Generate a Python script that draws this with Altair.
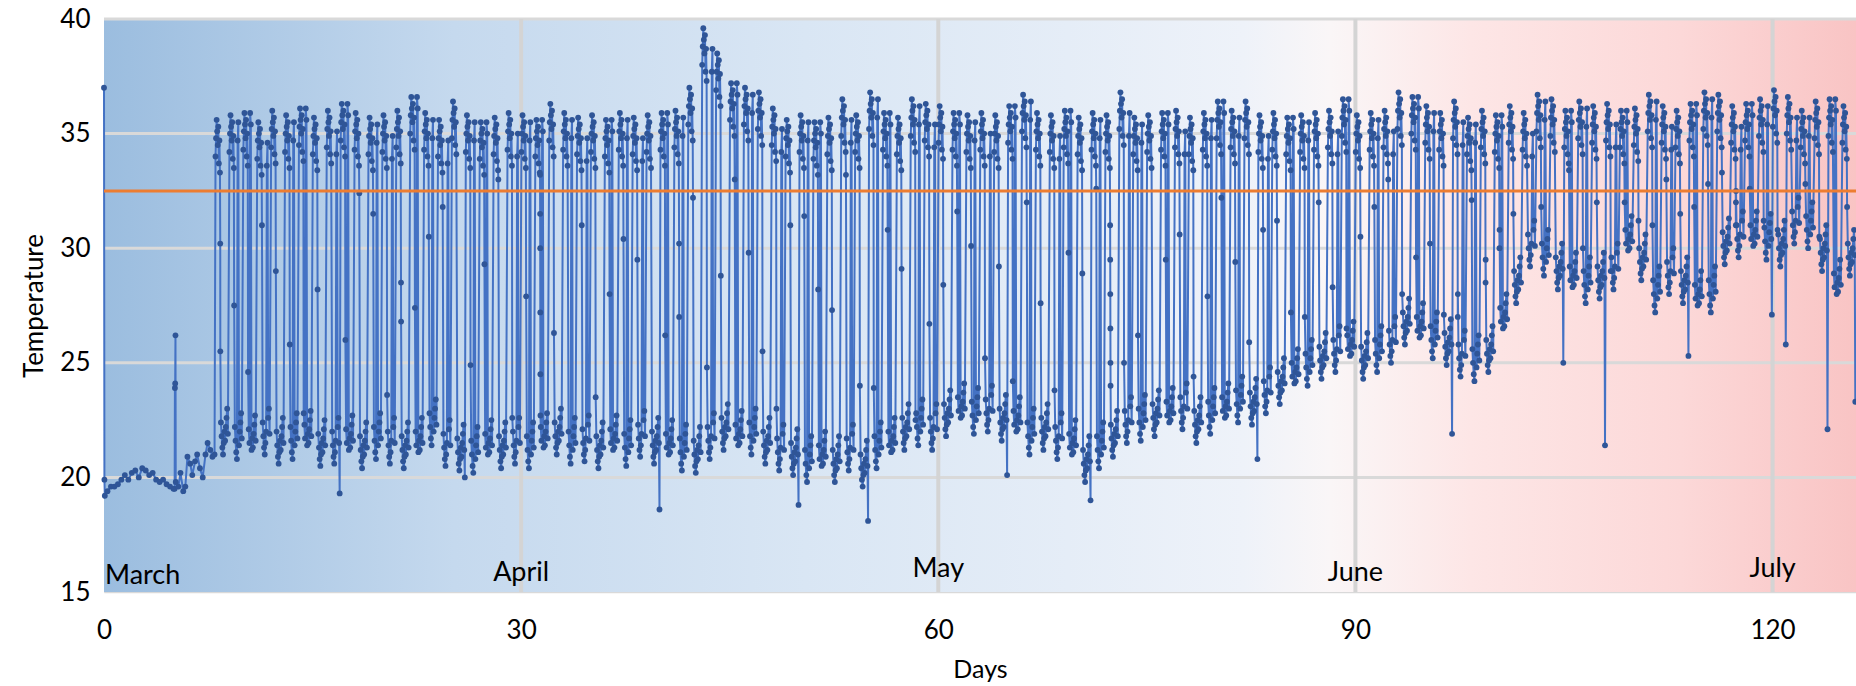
import altair as alt
import pandas as pd

# ---------------- data ----------------
# first days (before the daily oscillation begins)
EARLY_DAY = [0.0, 0.03, 0.06, 0.25, 0.5, 0.75, 1.0, 1.25, 1.5, 1.75, 2.0, 2.25, 2.5, 2.75,
             3.0, 3.25, 3.5, 3.75, 4.0, 4.25, 4.5, 4.75, 5.0, 5.08, 5.1, 5.12, 5.14, 5.16,
             5.35, 5.5, 5.7, 5.85, 6.0, 6.2, 6.35, 6.55, 6.7, 6.9, 7.1, 7.3, 7.45, 7.65,
             7.8, 7.95]
EARLY_TEMP = [37.0, 19.9, 19.2, 19.4, 19.6, 19.6, 19.7, 19.9, 20.1, 19.9, 20.2, 20.3, 20.0, 20.4,
              20.3, 20.1, 20.2, 19.9, 19.8, 19.9, 19.7, 19.6, 19.5, 19.5, 23.9, 24.1, 26.2, 19.8,
              19.6, 20.2, 19.4, 19.6, 20.9, 20.6, 20.1, 20.7, 21.0, 20.4, 20.0, 21.0, 21.5, 21.2,
              20.9, 21.0]

OSC_FIRST_DAY = 8
# daily maximum of the warm phase, days 8..125
DAY_HIGH = [35.6, 35.8, 35.9, 35.5, 36.0, 35.8, 36.1, 35.7, 36.0, 36.3,
            35.9, 35.7, 35.8, 36.0, 36.6, 35.9, 35.6, 36.4, 35.8, 35.5,
            35.7, 35.9, 35.8, 35.6, 36.3, 35.9, 35.7, 35.8, 35.6, 35.9,
            35.7, 35.8, 35.9, 36.0, 37.0, 39.6, 38.5, 37.2, 37.0, 36.8,
            36.1, 35.6, 35.8, 35.5, 35.7, 36.5, 35.8, 36.8, 35.9, 35.7,
            36.5, 36.3, 36.2, 35.9, 35.8, 35.9, 35.8, 36.2, 36.7, 35.9,
            35.8, 36.0, 35.7, 35.9, 35.8, 36.8, 35.7, 35.8, 35.9, 36.0,
            35.7, 35.9, 36.4, 36.0, 36.4, 35.8, 35.9, 35.7, 35.8, 35.9,
            36.0, 36.5, 35.8, 35.9, 36.0, 36.8, 36.6, 36.2, 35.9, 36.4,
            35.7, 36.0, 35.8, 36.2, 35.9, 36.7, 36.5, 36.0, 36.4, 36.2,
            36.3, 36.0, 36.1, 36.7, 36.2, 36.0, 36.3, 36.8, 36.7, 36.2,
            36.3, 36.5, 36.9, 36.6, 36.0, 36.4, 36.5, 36.2]
# daily base of the cool phase, days 8..125
DAY_LOW = [21.0, 20.8, 20.7, 21.0, 20.6, 20.8, 20.9, 20.5, 20.6, 20.7,
           20.4, 20.8, 20.6, 20.4, 20.6, 21.4, 20.5, 20.3, 20.2, 20.5,
           20.4, 20.6, 20.4, 20.8, 21.0, 20.6, 20.7, 20.4, 20.7, 20.5,
           20.9, 20.6, 20.5, 20.3, 20.2, 20.8, 21.2, 20.9, 21.0, 20.6,
           20.3, 20.1, 19.8, 20.0, 19.8, 20.3, 19.6, 20.4, 20.6, 21.2,
           21.4, 21.2, 21.8, 22.1, 21.9, 22.0, 21.6, 21.5, 21.0, 21.2,
           20.8, 20.5, 19.8, 20.4, 20.9, 21.5, 21.6, 21.8, 21.9, 22.1,
           21.5, 21.9, 22.1, 22.4, 22.3, 22.8, 23.2, 23.6, 24.0, 24.3,
           24.6, 24.8, 24.3, 24.6, 25.0, 25.8, 25.6, 25.2, 24.9, 24.4,
           24.2, 24.6, 26.0, 27.6, 29.2, 28.8, 28.2, 27.8, 27.6, 27.8,
           28.2, 29.4, 28.6, 27.2, 28.0, 27.6, 27.0, 27.2, 29.3, 29.6,
           29.6, 29.5, 29.2, 30.2, 30.0, 29.0, 27.5, 28.8]
# isolated deep readings
DIP_DAY = [16, 25, 39, 49, 54, 64, 70, 82, 96, 104, 107, 113, 119, 120, 123, 125]
DIP_TEMP = [19.3, 20.0, 18.6, 18.8, 18.1, 20.1, 19.0, 20.8, 21.9, 25.0, 21.4, 25.3, 27.1, 25.8, 22.1, 23.3]
# intermediate readings while cooling down
MID_DAY = [8, 9, 10, 12, 14, 17, 19, 21, 23, 26, 28, 31, 32, 36, 38, 41, 44, 47, 50, 52, 55,
           57, 59, 62, 65, 67, 69, 72, 74, 77, 79, 81, 84, 86, 88, 91, 94, 97, 99, 100, 101,
           106, 109, 111, 114, 117, 120, 124]
MID_TEMP = [[30.2, 25.5], [27.5], [24.6], [29.0], [22.8], [26.0], [31.5], [28.5, 26.8], [30.5],
            [24.9], [33.0], [33.2, 31.5, 30.0, 27.2, 24.5, 22.7], [26.3], [28.0], [29.5],
            [30.2, 27.0], [28.8], [25.5], [31.4], [27.3], [23.9], [29.1], [26.7], [30.1], [24.2],
            [27.6], [29.8], [31.0, 29.5, 28.0, 26.5, 25.0, 24.0], [26.2], [30.6], [27.9], [29.4],
            [31.2], [27.0], [28.3], [31.8], [29.6], [27.0, 28.0], [28.5, 29.5], [30.0, 30.8],
            [31.5], [30.0], [32.0], [31.0], [31.8], [31.0, 32.0, 32.5], [30.8]]
MID2_DAY = [11, 13, 15, 18, 20, 22, 24, 27, 29, 30, 34, 35, 37, 40, 42, 43, 45, 46, 48, 49,
            51, 53, 54, 56, 58, 60, 61, 63, 64, 66, 68, 70, 71, 73, 76, 78, 80, 82, 83, 85,
            87, 89, 90, 92, 93, 95, 96, 98, 103, 105, 107, 108, 110, 112, 113, 115, 116, 118,
            119, 122, 123, 125]
MID2_TEMP = [31.0, 25.8, 28.2, 32.4, 23.6, 27.4, 31.8, 29.3, 22.6, 27.9, 31.0, 23.5, 30.4, 26.2,
             32.2, 24.8, 33.0, 29.8, 23.0, 31.0, 28.2, 33.2, 24.0, 30.8, 22.5, 28.4, 31.6, 25.2,
             29.2, 32.0, 23.8, 28.9, 32.6, 25.0, 29.5, 24.4, 32.2, 25.9, 30.8, 27.2, 32.0, 26.5,
             30.5, 33.0, 28.0, 30.2, 27.1, 32.1, 31.8, 33.4, 32.0, 29.0, 31.2, 33.0, 31.5, 32.8,
             33.3, 32.6, 31.2, 32.8, 30.5, 31.8]
# days with an extra short warm spell inside the cool phase, and where it falls
BLIP_DAYS = [9, 10, 11, 13, 14, 16, 17, 19, 20, 22, 23, 24, 26, 27, 29, 30, 31, 33, 34, 36,
             37, 38, 40, 41, 43, 45, 46, 48, 50, 51, 53, 55, 56, 58, 59, 61, 62, 63, 65, 66,
             68, 69, 71, 73, 74, 76, 77, 79, 80, 81, 83, 85, 86, 88, 89, 91, 92, 94, 95, 97,
             98, 100, 102, 103, 105, 106, 108, 109, 111, 112, 114, 115, 117, 118, 119, 121,
             122, 124]
BLIP_SLOT = [4, 2, 6, 4, 2, 6, 2, 4, 6, 2, 4, 6, 4, 2, 6, 4, 2, 4, 6, 2,
             4, 6, 2, 4, 6, 2, 4, 6, 4, 2, 6, 4, 2, 4, 6, 2, 4, 6, 2, 4,
             6, 2, 4, 6, 4, 2, 6, 4, 2, 4, 6, 2, 4, 6, 2, 4, 6, 2, 4, 6,
             4, 2, 6, 4, 2, 4, 6, 2, 4, 6, 2, 4, 6, 2, 4, 6, 4, 2]
# spread of the readings inside a warm / cool phase
HIGH_SPREAD = [-1.6, -0.8, 0.0, -0.5, -1.1, -0.3, -1.9, -0.9, -2.3]
LOW_SPREAD = [1.4, 0.8, 0.3, 0.0, 0.5, 1.0, 0.6, 1.2, 1.6, 2.0, 0.9]

THRESHOLD = [32.5]
Y_GRID = [20, 25, 30, 35, 40]
X_GRID = [30, 60, 90, 120]
X_TICKS = [0, 30, 60, 90, 120]
Y_TICKS = [15, 20, 25, 30, 35, 40]
MONTHS = ["March", "April", "May", "June", "July"]
MONTH_DAY = [0, 30, 60, 90, 120]
MONTH_Y = [15.70, 15.83, 16.0, 15.83, 16.0]

# ---------------- build the series ----------------
rows = [(d, t) for d, t in zip(EARLY_DAY, EARLY_TEMP)]
dips = dict(zip(DIP_DAY, DIP_TEMP))
mids = {d: list(v) for d, v in zip(MID_DAY, MID_TEMP)}
for d, v in zip(MID2_DAY, MID2_TEMP):
    mids.setdefault(d, []).append(v)
blips = dict(zip(BLIP_DAYS, BLIP_SLOT))
for i, (hi, lo) in enumerate(zip(DAY_HIGH, DAY_LOW)):
    d = OSC_FIRST_DAY + i
    for k, off in enumerate(HIGH_SPREAD):
        rows.append((d + 0.02 + 0.04 * k, hi + off))
    for k, m in enumerate(mids.get(d, [])):
        rows.append((d + 0.36 + 0.006 * k, m))
    slot = blips.get(d)
    for k, off in enumerate(LOW_SPREAD):
        t = d + 0.41 + 0.05 * k
        if slot is not None and k in (slot, slot + 1):
            rows.append((t, hi + HIGH_SPREAD[k % len(HIGH_SPREAD)]))
        else:
            rows.append((t, lo + off))
    if d in dips:
        rows.append((d + 0.95, dips[d]))
df = pd.DataFrame(rows, columns=["day", "temp"]).sort_values("day")

W, H = 1752, 573
FONT = "Lato"
xs = alt.Scale(domain=[0, 126], nice=False, zero=False)
ys = alt.Scale(domain=[15, 40], nice=False, zero=False)
xaxis = alt.Axis(values=X_TICKS, title="Days", grid=False, ticks=False, labelFlush=False,
                 domainColor="#d9d9d9", domainWidth=1.5, labelFontSize=26,
                 labelPadding=25, titleFontSize=25, titlePadding=14,
                 labelColor="black", titleColor="black", titleFontWeight="normal")
yaxis = alt.Axis(values=Y_TICKS, title="Temperature", grid=False, ticks=False,
                 domain=False, labelFontSize=26, labelPadding=14, titleFontSize=26,
                 titlePadding=12, labelColor="black", titleColor="black",
                 titleFontWeight="normal", labelFlush=False)

bg_df = pd.DataFrame({"x0": [0], "x1": [126], "y0": [15], "y1": [40]})
gradient = {
    "gradient": "linear", "x1": 0, "x2": 1, "y1": 0, "y2": 0,
    "stops": [
        {"offset": 0.0, "color": "#9bbddf"},
        {"offset": 0.2, "color": "#c5d9ee"},
        {"offset": 0.4, "color": "#d9e6f4"},
        {"offset": 0.55, "color": "#e5edf7"},
        {"offset": 0.65, "color": "#eef2f9"},
        {"offset": 0.70, "color": "#faf6f7"},
        {"offset": 0.78, "color": "#fde6e6"},
        {"offset": 0.9, "color": "#fcd8d8"},
        {"offset": 1.0, "color": "#f9c4c4"},
    ],
}
bg = alt.Chart(bg_df).mark_rect(fill=gradient).encode(
    x=alt.X("x0:Q", scale=xs, axis=xaxis), x2="x1:Q",
    y=alt.Y("y0:Q", scale=ys, axis=yaxis), y2="y1:Q")

hgrid = alt.Chart(pd.DataFrame({"v": Y_GRID})).mark_rule(
    color="#d9d9d9", strokeWidth=3).encode(y=alt.Y("v:Q", scale=ys, axis=yaxis))
vgrid = alt.Chart(pd.DataFrame({"v": X_GRID})).mark_rule(
    color="#d4d4d4", strokeWidth=4).encode(x=alt.X("v:Q", scale=xs, axis=xaxis))

line = alt.Chart(df).mark_line(color="#4472c4", strokeWidth=2.0).encode(
    x=alt.X("day:Q", scale=xs, axis=xaxis), y=alt.Y("temp:Q", scale=ys, axis=yaxis))
pts = alt.Chart(df).mark_circle(color="#2f5597", size=34, opacity=1).encode(
    x=alt.X("day:Q", scale=xs, axis=xaxis), y=alt.Y("temp:Q", scale=ys, axis=yaxis))

thr = alt.Chart(pd.DataFrame({"v": THRESHOLD})).mark_rule(
    color="#ed7d31", strokeWidth=3).encode(y=alt.Y("v:Q", scale=ys, axis=yaxis))

mdf = pd.DataFrame({"m": MONTHS, "d": MONTH_DAY, "y": MONTH_Y})
m_first = alt.Chart(mdf.iloc[:1]).mark_text(
    align="left", baseline="middle", fontSize=27, font=FONT, color="black", dx=1).encode(
    x=alt.X("d:Q", scale=xs, axis=xaxis), y=alt.Y("y:Q", scale=ys, axis=yaxis), text="m:N")
m_rest = alt.Chart(mdf.iloc[1:]).mark_text(
    align="center", baseline="middle", fontSize=27, font=FONT, color="black").encode(
    x=alt.X("d:Q", scale=xs, axis=xaxis), y=alt.Y("y:Q", scale=ys, axis=yaxis), text="m:N")

chart = alt.layer(bg, hgrid, vgrid, line, pts, thr, m_first, m_rest).properties(
    width=W, height=H,
    autosize=alt.AutoSizeParams(type="none"),
    padding={"left": 104, "top": 19, "right": 0, "bottom": 94},
).configure_view(stroke=None).configure(font=FONT, background="white")

chart.save("out.html", embed_options={"renderer": "svg", "actions": False})
